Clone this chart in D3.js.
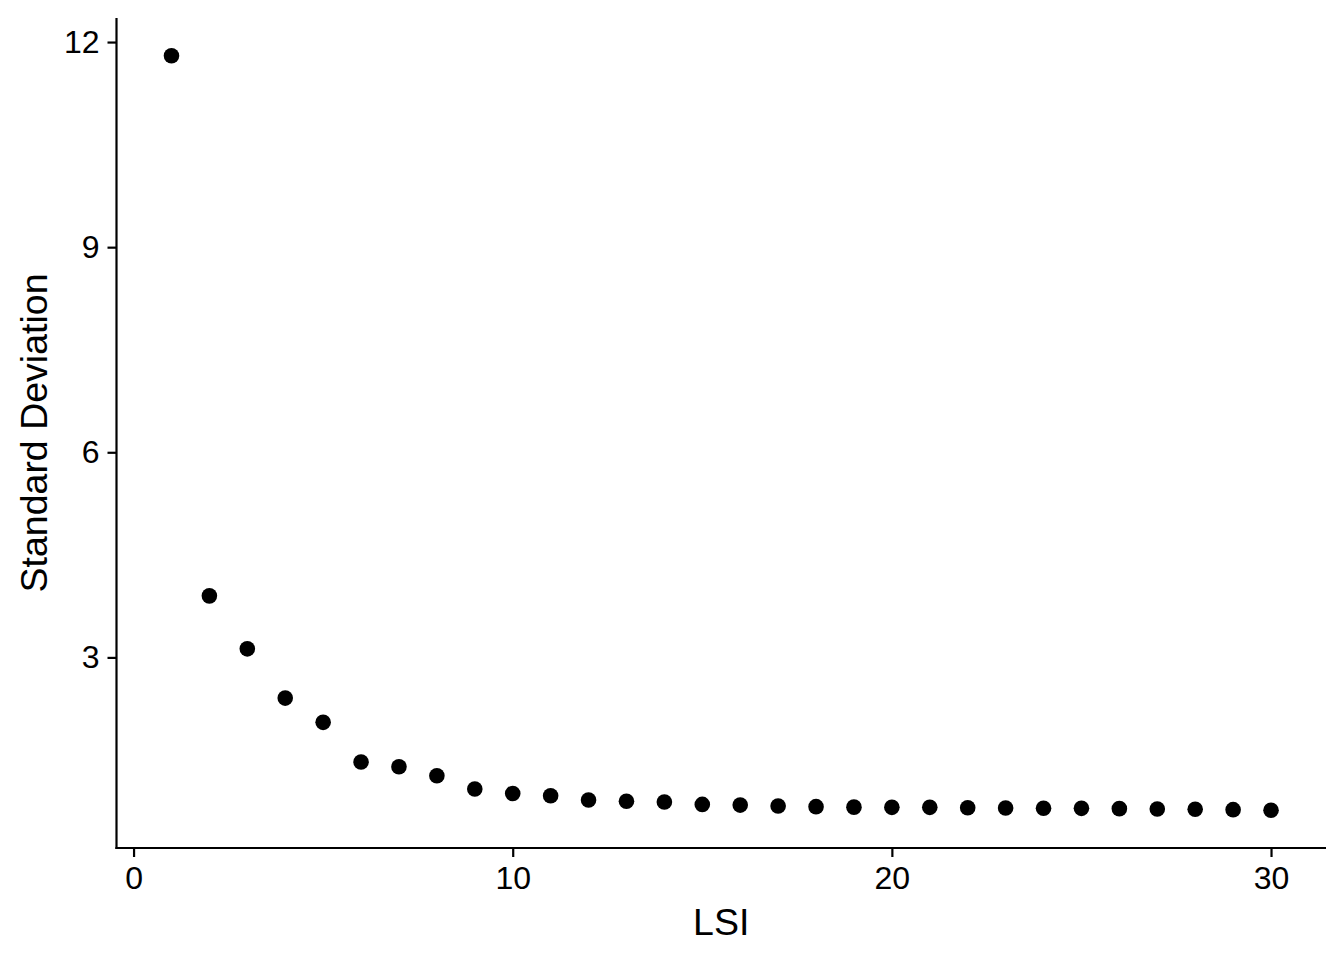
<!DOCTYPE html>
<html>
<head>
<meta charset="utf-8">
<script src="https://cdn.jsdelivr.net/npm/d3@7"></script>
<style>
  html, body { margin: 0; padding: 0; background: #ffffff; }
  svg { display: block; }
  text { font-family: "Liberation Sans", Arial, Helvetica, sans-serif; fill: #000; }
</style>
</head>
<body>
<svg id="chart" width="1344" height="960"></svg>
<script>
const lsi = [1,2,3,4,5,6,7,8,9,10,11,12,13,14,15,16,17,18,19,20,21,22,23,24,25,26,27,28,29,30];
const stdev = [11.80, 3.90, 3.125, 2.405, 2.05, 1.47, 1.40, 1.27, 1.075, 1.01,
               0.977, 0.915, 0.895, 0.885, 0.85, 0.84, 0.827, 0.817, 0.81, 0.807,
               0.807, 0.80, 0.797, 0.793, 0.792, 0.788, 0.783, 0.778, 0.773, 0.764];
const xTicks = [0, 10, 20, 30];
const yTicks = [3, 6, 9, 12];
const xTitle = "LSI";
const yTitle = "Standard Deviation";

(function () {
const svg = d3.select("#chart");
const pLeft = 116.5, pRight = 1326, pTop = 18, pBottom = 848;

function expand(ext) {
  const d = (ext[1] - ext[0]) * 0.05;
  return [ext[0] - d, ext[1] + d];
}
const x = d3.scaleLinear().domain(expand(d3.extent(lsi))).range([pLeft, pRight]);
const y = d3.scaleLinear().domain(expand(d3.extent(stdev))).range([pBottom, pTop]);

const tickFont = 32, titleFont = 37.5;

const xAxis = svg.append("g")
  .attr("transform", `translate(0,${pBottom})`)
  .call(d3.axisBottom(x).tickValues(xTicks).tickSize(9).tickPadding(9).tickSizeOuter(0));
const yAxis = svg.append("g")
  .attr("transform", `translate(${pLeft},0)`)
  .call(d3.axisLeft(y).tickValues(yTicks).tickSize(9).tickPadding(8).tickSizeOuter(0));

[xAxis, yAxis].forEach(g => {
  g.select(".domain").attr("stroke", "#000").attr("stroke-width", 2.2);
  g.selectAll(".tick line").attr("stroke", "#000").attr("stroke-width", 2.2);
  g.selectAll(".tick text").attr("font-size", tickFont)
    .attr("font-family", "'Liberation Sans', Arial, sans-serif").attr("fill", "#000");
});
xAxis.select(".domain").attr("d", `M${pLeft - 1.1},0H${pRight}`);
yAxis.select(".domain").attr("d", `M0,${pTop}V${pBottom + 1.1}`);

svg.append("g").selectAll("circle")
  .data(lsi.map((d, i) => ({ x: d, y: stdev[i] })))
  .join("circle")
  .attr("cx", d => x(d.x))
  .attr("cy", d => y(d.y))
  .attr("r", 7.8)
  .attr("fill", "#000");

svg.append("text")
  .attr("x", (pLeft + pRight) / 2)
  .attr("y", 935)
  .attr("text-anchor", "middle")
  .attr("font-size", titleFont)
  .text(xTitle);

svg.append("text")
  .attr("transform", `translate(47,${(pTop + pBottom) / 2}) rotate(-90)`)
  .attr("text-anchor", "middle")
  .attr("font-size", titleFont)
  .text(yTitle);
})();
</script>
</body>
</html>
